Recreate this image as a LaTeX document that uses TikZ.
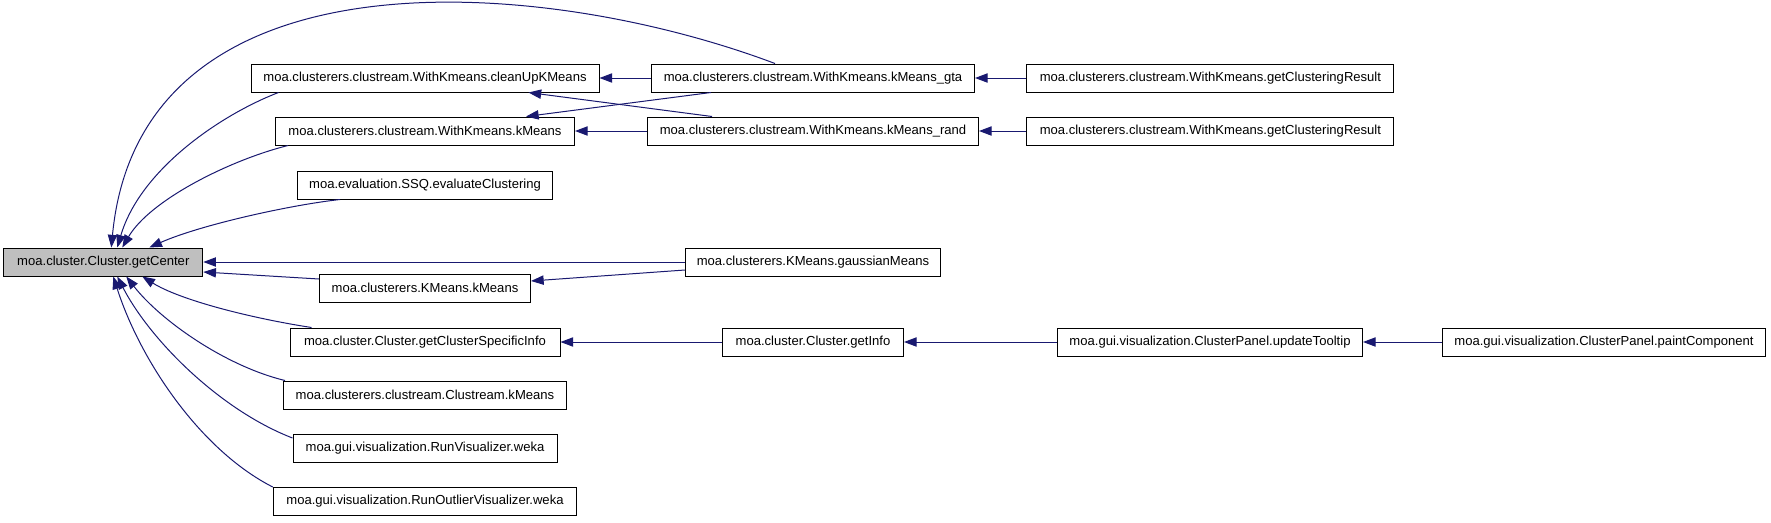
\documentclass[tikz,border=0pt]{standalone}
\usepackage{fontspec}
\setmainfont{Liberation Sans}
\usetikzlibrary{arrows.meta,calc}
\definecolor{edgeblue}{HTML}{191970}
\definecolor{nodegray}{HTML}{BFBFBF}
\begin{document}
\begin{tikzpicture}[x=0.75pt,y=-0.75pt,
  fn/.style={draw=black,line width=0.75pt,fill=white,inner sep=0pt,minimum height=21pt,font=\fontsize{9.8}{11}\selectfont},
  ed/.style={draw=edgeblue,line width=0.75pt,{Triangle[length=9.5pt,width=7pt]}-}]
\useasboundingbox(0,0)rectangle(1771,522);
\node[fn,fill=nodegray,minimum width=149.25pt](cen)at(103.3,262){moa.cluster.Cluster.getCenter};
\node[fn,minimum width=261pt](cln)at(425,78){moa.clusterers.clustream.WithKmeans.cleanUpKMeans};
\node[fn,minimum width=224.25pt](wkm)at(425,131){moa.clusterers.clustream.WithKmeans.kMeans};
\node[fn,minimum width=191.25pt](ssq)at(425,185){moa.evaluation.SSQ.evaluateClustering};
\node[fn,minimum width=158.25pt](kkm)at(425,288){moa.clusterers.KMeans.kMeans};
\node[fn,minimum width=202.5pt](gcs)at(425,342){moa.cluster.Cluster.getClusterSpecificInfo};
\node[fn,minimum width=212.25pt](csk)at(425,395){moa.clusterers.clustream.Clustream.kMeans};
\node[fn,minimum width=198pt](rvw)at(425,448){moa.gui.visualization.RunVisualizer.weka};
\node[fn,minimum width=227.6pt](rov)at(425,501.5){moa.gui.visualization.RunOutlierVisualizer.weka};
\node[fn,minimum width=242.25pt](gta)at(813,78){moa.clusterers.clustream.WithKmeans.kMeans\_gta};
\node[fn,minimum width=248.25pt](rnd)at(813,131){moa.clusterers.clustream.WithKmeans.kMeans\_rand};
\node[fn,minimum width=191.25pt](gsm)at(813,262){moa.clusterers.KMeans.gaussianMeans};
\node[fn,minimum width=135.75pt](gin)at(813,342){moa.cluster.Cluster.getInfo};
\node[fn,minimum width=275.25pt](gcra)at(1210.4,78){moa.clusterers.clustream.WithKmeans.getClusteringResult};
\node[fn,minimum width=275.25pt](gcrb)at(1210.4,131){moa.clusterers.clustream.WithKmeans.getClusteringResult};
\node[fn,minimum width=228.75pt](utt)at(1210,342){moa.gui.visualization.ClusterPanel.updateTooltip};
\node[fn,minimum width=242.25pt](ppc)at(1604,342){moa.gui.visualization.ClusterPanel.paintComponent};
\draw[ed]($(cen.north)+(8,0)$)..controls(140,-55)and(540,-25)..($(gta.north)+(-38,0)$);
\draw[ed]($(cen.north)+(14,0)$)..controls(140,170)and(220,115)..($(cln.south west)+(28,0)$);
\draw[ed]($(cen.north)+(19,0)$)..controls(150,200)and(230,160)..($(wkm.south west)+(13,0)$);
\draw[ed]($(cen.north)+(46,0)$)..controls(200,225)and(290,205)..($(ssq.south west)+(43,0)$);
\draw[ed]($(cen.south)+(39,0)$)..controls(180,300)and(250,318)..($(gcs.north west)+(22,0)$);
\draw[ed]($(cen.south)+(23,0)$)..controls(160,320)and(225,366)..($(csk.north west)+(2,0)$);
\draw[ed]($(cen.south)+(14,0)$)..controls(150,340)and(220,410)..($(rvw.west)+(0,-10)$);
\draw[ed]($(cen.south)+(10,0)$)..controls(140,360)and(200,450)..(rov.north west);
\draw[ed](cen.east)--(gsm.west);
\draw[ed]($(cen.east)+(0,10)$)--($(kkm.west)+(0,-9)$);
\draw[ed]($(kkm.east)+(0,-7)$)--($(gsm.west)+(0,8)$);
\draw[ed](cln.east)--(gta.west);
\draw[ed]($(cln.south east)+(-71,0)$)--($(rnd.north west)+(65,0)$);
\draw[ed]($(wkm.north east)+(-49,0)$)--($(gta.south west)+(60,0)$);
\draw[ed](wkm.east)--(rnd.west);
\draw[ed](gta.east)--(gcra.west);
\draw[ed](rnd.east)--(gcrb.west);
\draw[ed](gcs.east)--(gin.west);
\draw[ed](gin.east)--(utt.west);
\draw[ed](utt.east)--(ppc.west);
\end{tikzpicture}
\end{document}
